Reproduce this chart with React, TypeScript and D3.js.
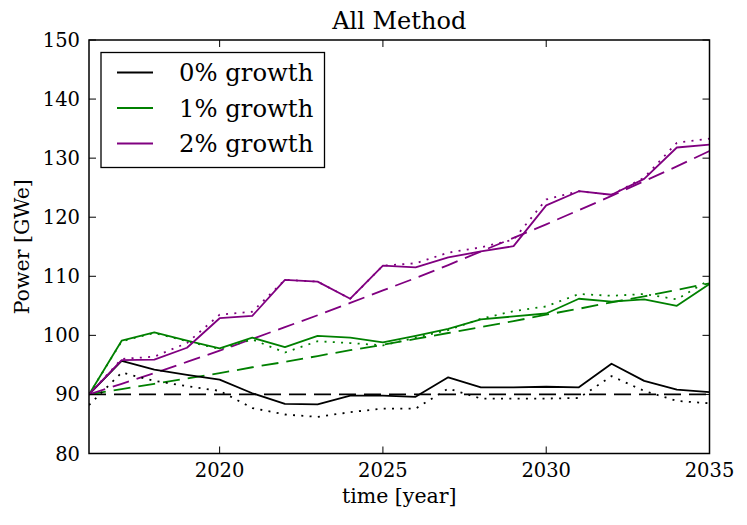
import React from "react";
import * as d3 from "d3";

const years = d3.range(2016, 2036);

const zeroSolid = [90, 95.7, 94.2, 93.3, 92.5, 90.2, 88.4, 88.3, 89.8, 89.8, 89.6, 92.9, 91.2, 91.2, 91.3, 91.2, 95.2, 92.3, 90.8, 90.4];
const zeroDotted = [88.2, 93.7, 92.3, 91.4, 90.6, 87.7, 86.6, 86.2, 87.0, 87.6, 87.6, 91.0, 89.3, 89.3, 89.3, 89.4, 93.1, 90.6, 88.9, 88.5];
const zeroDashed = [90, 90, 90, 90, 90, 90, 90, 90, 90, 90, 90, 90, 90, 90, 90, 90, 90, 90, 90, 90];

const oneSolid = [90, 99.1, 100.5, 99.1, 97.8, 99.6, 98.0, 99.9, 99.6, 98.8, 99.9, 101.1, 102.7, 103.2, 103.7, 106.2, 105.7, 106.1, 105.0, 108.7];
const oneDotted = [90, 99.0, 100.4, 99.0, 97.7, 99.3, 97.1, 99.0, 98.7, 98.3, 99.6, 100.9, 102.8, 104.1, 104.9, 107.0, 106.7, 107.0, 106.1, 109.4];
const oneDashed = [90, 90.9, 91.8, 92.7, 93.6, 94.6, 95.5, 96.5, 97.5, 98.4, 99.4, 100.4, 101.4, 102.4, 103.5, 104.5, 105.6, 106.6, 107.7, 108.8];

const twoSolid = [90, 95.8, 95.9, 97.9, 102.9, 103.3, 109.4, 109.1, 106.2, 111.8, 111.5, 113.2, 114.2, 115.1, 122.0, 124.4, 123.8, 126.5, 131.8, 132.3];
const twoDotted = [90, 96.0, 96.4, 98.7, 103.5, 104.0, 109.4, 109.1, 106.2, 111.8, 112.2, 114.0, 114.9, 116.2, 123.0, 124.4, 123.8, 126.7, 132.6, 133.3];
const twoDashed = [90, 91.8, 93.6, 95.5, 97.4, 99.4, 101.4, 103.4, 105.5, 107.6, 109.7, 111.9, 114.2, 116.5, 118.8, 121.2, 123.6, 126.1, 128.6, 131.2];

const xTicks = [2020, 2025, 2030, 2035];
const yTicks = [80, 90, 100, 110, 120, 130, 140, 150];
const legendLabels = ["0% growth", "1% growth", "2% growth"];

const BLACK = "#000000";
const GREEN = "#008000";
const PURPLE = "#800080";

const W = 747;
const H = 525;
const L = 89;
const R = 709.5;
const T = 40;
const B = 453.5;
const FONT = "'DejaVu Serif', serif";

export default function App() {
  const x = d3.scaleLinear().domain([2016, 2035]).range([L, R]);
  const y = d3.scaleLinear().domain([80, 150]).range([B, T]);
  const line = d3
    .line<number>()
    .x((_, i) => x(years[i]))
    .y((d) => y(d));

  const dash = "17 8";
  const dot = "2 6.3";
  const series = [
    { data: zeroDashed, color: BLACK, da: dash },
    { data: oneDashed, color: GREEN, da: dash },
    { data: twoDashed, color: PURPLE, da: dash },
    { data: zeroDotted, color: BLACK, da: dot },
    { data: oneDotted, color: GREEN, da: dot },
    { data: twoDotted, color: PURPLE, da: dot },
    { data: zeroSolid, color: BLACK, da: undefined },
    { data: oneSolid, color: GREEN, da: undefined },
    { data: twoSolid, color: PURPLE, da: undefined },
  ];
  const legendColors = [BLACK, GREEN, PURPLE];
  const tickLen = 7;

  return (
    <svg
      width={W}
      height={H}
      style={{ position: "absolute", left: 0, top: 0, background: "#fff" }}
      fontFamily={FONT}
    >
      <rect x={0} y={0} width={W} height={H} fill="#fff" />
      <defs>
        <clipPath id="plotclip">
          <rect x={L} y={T} width={R - L} height={B - T} />
        </clipPath>
      </defs>
      <g clipPath="url(#plotclip)">
        {series.map((s, i) => (
          <path
            key={i}
            d={line(s.data) || ""}
            fill="none"
            stroke={s.color}
            strokeWidth={1.8}
            strokeDasharray={s.da}
            strokeLinejoin="round"
          />
        ))}
      </g>
      {xTicks.map((t) => (
        <g key={"x" + t}>
          <line x1={x(t)} x2={x(t)} y1={B} y2={B - tickLen} stroke="#000" strokeWidth={1} />
          <line x1={x(t)} x2={x(t)} y1={T} y2={T + tickLen} stroke="#000" strokeWidth={1} />
          <text x={x(t)} y={477} textAnchor="middle" fontSize={19.5}>
            {t}
          </text>
        </g>
      ))}
      {yTicks.map((t) => (
        <g key={"y" + t}>
          <line x1={L} x2={L + tickLen} y1={y(t)} y2={y(t)} stroke="#000" strokeWidth={1} />
          <line x1={R} x2={R - tickLen} y1={y(t)} y2={y(t)} stroke="#000" strokeWidth={1} />
          <text x={80} y={y(t) + 7} textAnchor="end" fontSize={19.5}>
            {t}
          </text>
        </g>
      ))}
      <rect x={L} y={T} width={R - L} height={B - T} fill="none" stroke="#000" strokeWidth={1.5} />
      <rect x={101} y={52.5} width={223.5} height={115} fill="#fff" stroke="#000" strokeWidth={1.3} />
      {legendLabels.map((lab, i) => (
        <g key={lab}>
          <line
            x1={117}
            x2={153}
            y1={72.5 + i * 35.5}
            y2={72.5 + i * 35.5}
            stroke={legendColors[i]}
            strokeWidth={1.8}
          />
          <text x={179} y={81 + i * 35.5} fontSize={24.3}>
            {lab}
          </text>
        </g>
      ))}
      <text x={(L + R) / 2} y={29} textAnchor="middle" fontSize={24}>
        All Method
      </text>
      <text x={(L + R) / 2} y={503} textAnchor="middle" fontSize={20.5}>
        time [year]
      </text>
      <text
        transform={`translate(29, ${(T + B) / 2}) rotate(-90)`}
        textAnchor="middle"
        fontSize={20.5}
      >
        Power [GWe]
      </text>
    </svg>
  );
}
